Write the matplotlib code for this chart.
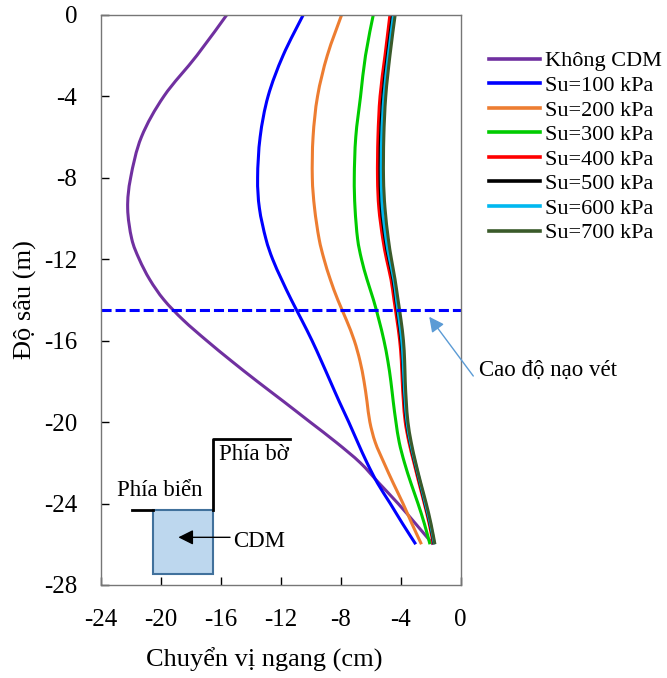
import matplotlib.pyplot as plt
from matplotlib.patches import Rectangle, PathPatch
from matplotlib.path import Path
from matplotlib.lines import Line2D

plt.rcParams['font.family'] = ['Liberation Serif', 'DejaVu Serif']
plt.rcParams['axes.unicode_minus'] = False

# depth (m)
depth = [0, -2, -4, -6, -8, -9.5, -11, -12, -13, -14, -15, -16, -17, -18, -19,
         -20, -21, -22, -23, -24, -25, -26]

# horizontal displacement (cm) for each case
khong_cdm = [-15.6, -17.6, -19.8, -21.3, -22.02, -22.22, -21.95, -21.45, -20.75, -19.8,
             -18.5, -16.95, -15.3, -13.58, -11.8, -10.05, -8.3, -6.7, -5.45, -4.18,
             -3.0, -1.85]
su100 = [-10.5, -11.85, -12.85, -13.38, -13.55, -13.43, -13.0, -12.55, -11.95, -11.3,
         -10.6, -9.92, -9.3, -8.7, -8.1, -7.47, -6.87, -6.25, -5.55, -4.7, -3.87, -3.0]
su200 = [-7.94, -8.9, -9.55, -9.85, -9.9, -9.75, -9.45, -9.12, -8.7, -8.2, -7.62, -7.1,
         -6.72, -6.45, -6.25, -6.06, -5.7, -5.12, -4.5, -3.85, -3.25, -2.62]
su300 = [-5.83, -6.35, -6.68, -7.0, -7.1, -7.05, -6.88, -6.62, -6.25, -5.82, -5.45, -5.12,
         -4.86, -4.66, -4.5, -4.32, -4.1, -3.75, -3.32, -2.85, -2.42, -2.05]
su400 = [-4.72, -5.05, -5.38, -5.52, -5.55, -5.46, -5.2, -4.95, -4.65, -4.45, -4.25,
         -4.07, -3.96, -3.9, -3.82, -3.7, -3.45, -3.12, -2.78, -2.43, -2.1, -1.83]
su500 = [-4.55, -4.9, -5.2, -5.35, -5.38, -5.3, -5.05, -4.8, -4.52, -4.33, -4.15,
         -3.98, -3.88, -3.82, -3.74, -3.62, -3.38, -3.06, -2.72, -2.38, -2.05, -1.78]
su600 = [-4.48, -4.83, -5.12, -5.27, -5.3, -5.22, -4.98, -4.74, -4.46, -4.28, -4.1,
         -3.93, -3.84, -3.78, -3.7, -3.58, -3.35, -3.03, -2.69, -2.35, -2.02, -1.75]
su700 = [-4.37, -4.72, -5.0, -5.13, -5.15, -5.05, -4.83, -4.62, -4.38, -4.18, -3.98,
         -3.82, -3.74, -3.7, -3.63, -3.52, -3.3, -3.0, -2.66, -2.3, -1.98, -1.72]

labels = ['Không CDM', 'Su=100 kPa', 'Su=200 kPa', 'Su=300 kPa', 'Su=400 kPa',
          'Su=500 kPa', 'Su=600 kPa', 'Su=700 kPa']
colors = ['#7030A0', '#0000FF', '#ED7D31', '#00CC00', '#FF0000', '#000000',
          '#00B8F0', '#3A5A2A']
series = [khong_cdm, su100, su200, su300, su400, su500, su600, su700]

dredge_level = -14.5


def smooth_path(xs, ys):
    # smoothed line like the spreadsheet one: bezier segments through the points
    pts = list(zip(xs, ys))
    verts = [pts[0]]
    codes = [Path.MOVETO]
    n = len(pts)
    for i in range(n - 1):
        p0 = pts[i - 1] if i > 0 else pts[i]
        p1 = pts[i]
        p2 = pts[i + 1]
        p3 = pts[i + 2] if i + 2 < n else pts[i + 1]
        c1 = (p1[0] + (p2[0] - p0[0]) / 6, p1[1] + (p2[1] - p0[1]) / 6)
        c2 = (p2[0] - (p3[0] - p1[0]) / 6, p2[1] - (p3[1] - p1[1]) / 6)
        verts += [c1, c2, p2]
        codes += [Path.CURVE4] * 3
    return Path(verts, codes)


fig = plt.figure(figsize=(6.67, 6.78), dpi=100)
ax = fig.add_axes([0.1514, 0.1372, 0.5393, 0.8411])

handles = []
for xs, lab, col in zip(series, labels, colors):
    ax.add_patch(PathPatch(smooth_path(xs, depth), fill=False, edgecolor=col, lw=2.2,
                           capstyle='butt'))
    handles.append(Line2D([], [], color=col, lw=2.6, label=lab))

ax.axhline(dredge_level, color='#0000FF', lw=2.2, dashes=(3.3, 1.3))

ax.set_xlim(-24, 0)
ax.set_ylim(-28, 0)
ax.set_xticks(range(-24, 1, 4))
ax.set_yticks(range(-28, 1, 4))
for s in ax.spines.values():
    s.set_color('#767676')
    s.set_linewidth(1.0)
ax.tick_params(axis='both', direction='in', length=6, width=1, color='black',
               labelsize=18)
ax.tick_params(axis='x', pad=17.5)
ax.tick_params(axis='y', pad=17)

ax.set_xlabel('Chuyển vị ngang (cm)', fontsize=19)
ax.set_ylabel('Độ sâu (m)', fontsize=19)
ax.xaxis.set_label_coords(0.453, -0.11)
ax.yaxis.set_label_coords(-0.178, 0.5)

ax.legend(handles=handles, loc='upper left', bbox_to_anchor=(0.733, 0.925),
          bbox_transform=fig.transFigure, frameon=False, borderpad=0, borderaxespad=0,
          handlelength=2.3, handletextpad=0.22, labelspacing=0.18, fontsize=16)

# dredge level note
ax.annotate('', xy=(-2.1, -14.83), xytext=(0.84, -17.74), annotation_clip=False,
            arrowprops=dict(arrowstyle='-|>,head_length=0.6,head_width=0.3',
                            color='#5B9BD5', lw=1, mutation_scale=15,
                            shrinkA=0, shrinkB=0))
ax.text(1.24, -17.44, 'Cao độ nạo vét', fontsize=16.5, ha='left', va='center',
        clip_on=False)

# sketch of CDM block
ax.add_patch(Rectangle((-20.55, -27.47), 4.0, 3.15, facecolor='#BDD7EE',
                       edgecolor='#41719C', lw=1.5))
ax.plot([-21.95, -20.55], [-24.32, -24.32], color='black', lw=2)
ax.plot([-16.55, -16.55, -11.39], [-24.32, -20.85, -20.85], color='black', lw=2)
ax.text(-20.1, -23.63, 'Phía biển', fontsize=16.5, ha='center', va='baseline')
ax.text(-13.79, -21.86, 'Phía bờ', fontsize=16.5, ha='center', va='baseline')
ax.text(-15.17, -26.12, 'CDM', fontsize=16.5, ha='left', va='baseline')
ax.annotate('', xy=(-18.84, -25.66), xytext=(-15.39, -25.66),
            arrowprops=dict(arrowstyle='-|>,head_length=0.6,head_width=0.3',
                            color='black', lw=1, mutation_scale=15,
                            shrinkA=0, shrinkB=0))

fig.savefig('out.png', dpi=100)
